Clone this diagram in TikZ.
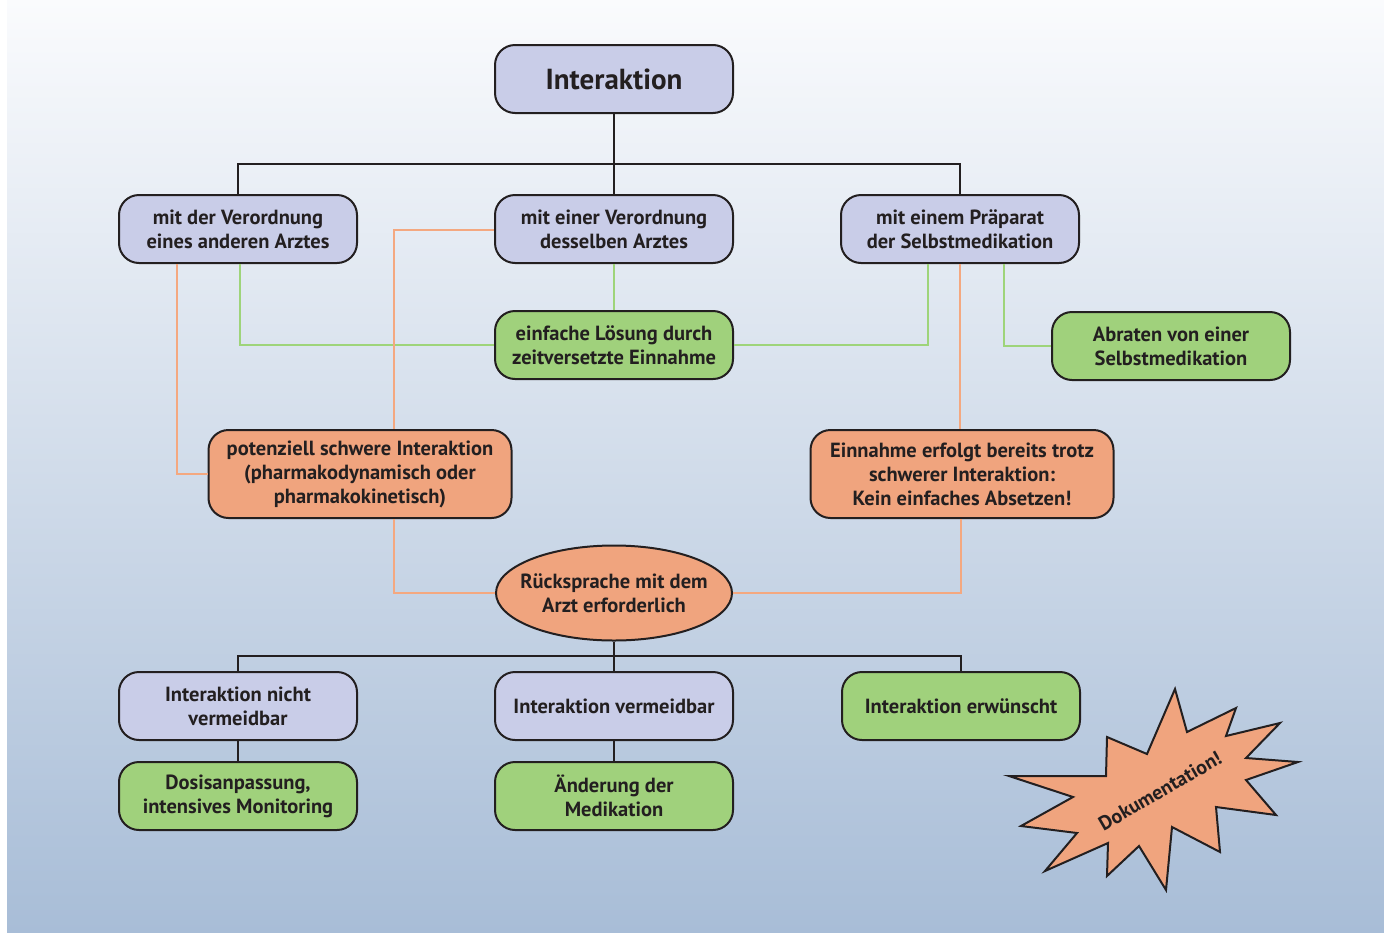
\documentclass[tikz,border=0pt]{standalone}
\usepackage{fontspec}
\setmainfont{PT Sans}
\usetikzlibrary{shapes.geometric}
\definecolor{lav}{HTML}{C9CDE8}
\definecolor{grn}{HTML}{A0D17C}
\definecolor{org}{HTML}{F0A47E}
\definecolor{gline}{HTML}{9ED47A}
\definecolor{oline}{HTML}{F4A880}
\definecolor{ink}{HTML}{231F20}
\definecolor{bgtop}{HTML}{FAFBFD}
\definecolor{bgbot}{HTML}{A8BDD7}
\begin{document}
\begin{tikzpicture}[x=1pt,y=-1pt,
 box/.style={draw=ink, line width=2pt, rounded corners=20pt, minimum width=238pt, minimum height=68pt, inner sep=0pt, align=center, font=\bfseries\fontsize{20.5}{24}\selectfont, text=ink},
 lavbox/.style={box, fill=lav},
 grnbox/.style={box, fill=grn},
 orgbox/.style={box, fill=org, minimum width=303pt, minimum height=88pt},
 bl/.style={draw=ink, line width=2pt},
 gl/.style={draw=gline, line width=2.8pt},
 ol/.style={draw=oline, line width=2.8pt}]
\fill[white] (0,0) rectangle (1384,932);
\shade[top color=bgtop, bottom color=bgbot] (7,0) rectangle (1384,932);
\useasboundingbox (0,0) rectangle (1384,932);
% nodes
\node[lavbox, font=\bfseries\fontsize{29}{32}\selectfont] (top) at (614,79) {Interaktion};
\node[lavbox] (l) at (238,229) {mit der Verordnung\\eines anderen Arztes};
\node[lavbox] (m) at (614,229) {mit einer Verordnung\\desselben Arztes};
\node[lavbox] (r) at (960,229) {mit einem Präparat\\der Selbstmedikation};
\node[grnbox] (g) at (614,345) {einfache Lösung durch\\zeitversetzte Einnahme};
\node[grnbox] (ab) at (1171,346) {Abraten von einer\\Selbstmedikation};
\node[orgbox] (po) at (360,474) {potenziell schwere Interaktion\\(pharmakodynamisch oder\\pharmakokinetisch)};
\node[orgbox] (ei) at (962,474) {Einnahme erfolgt bereits trotz\\schwerer Interaktion:\\Kein einfaches Absetzen!};
\node[ellipse, draw=ink, line width=2pt, fill=org, minimum width=236pt, minimum height=95pt, inner xsep=-16pt, inner ysep=0pt, align=center, font=\bfseries\fontsize{20.5}{24}\selectfont, text=ink] (ru) at (614,593) {Rücksprache mit dem\\Arzt erforderlich};
\node[lavbox] (nv) at (238,706) {Interaktion nicht\\vermeidbar};
\node[lavbox] (vm) at (614,706) {Interaktion vermeidbar};
\node[grnbox] (ew) at (961,706) {Interaktion erwünscht};
\node[grnbox] (dos) at (238,796) {Dosisanpassung,\\intensives Monitoring};
\node[grnbox] (aen) at (614,796) {Änderung der\\Medikation};
% black connectors
\draw[bl] (top.south) -- (m.north);
\draw[bl] (l.north) -- (l.north |- 0,164) -- (r.north |- 0,164) -- (r.north);
\draw[bl] (ru.south) -- (vm.north);
\draw[bl] (nv.north) -- (nv.north |- 0,656) -- (ew.north |- 0,656) -- (ew.north);
\draw[bl] (nv.south) -- (dos.north);
\draw[bl] (vm.south) -- (aen.north);
% green connectors
\draw[gl] (l.south -| 240,0) |- (g.west);
\draw[gl] (m.south) -- (g.north);
\draw[gl] (r.south -| 928,0) |- (g.east);
\draw[gl] (r.south -| 1004,0) |- (ab.west);
% orange connectors
\draw[ol] (l.south -| 177,0) |- (po.west);
\draw[ol] (m.west |- 0,230) -| (po.north -| 394,0);
\draw[ol] (r.south) -- (r.south |- ei.north);
\draw[ol] (po.south -| 394,0) |- (ru.west);
\draw[ol] (ei.south -| 961,0) |- (ru.east);
% starburst
\draw[draw=ink, line width=2pt, fill=org, line join=miter]
 (1175,689) -- (1187,732) -- (1236,708) -- (1226,736) -- (1280,723) -- (1246,758)
 -- (1298,762) -- (1246,780) -- (1276,815) -- (1216,807) -- (1220,852) -- (1172,827)
 -- (1166,890) -- (1139,846) -- (1107,876) -- (1108,843) -- (1045,871) -- (1077,833)
 -- (1021,826) -- (1073,797) -- (1009,776) -- (1106,776) -- (1107,737) -- (1147,754) -- cycle;
\node[rotate=30, font=\bfseries\fontsize{20}{24}\selectfont, text=ink] (doc) at (1160,791) {Dokumentation!};
\end{tikzpicture}
\end{document}
